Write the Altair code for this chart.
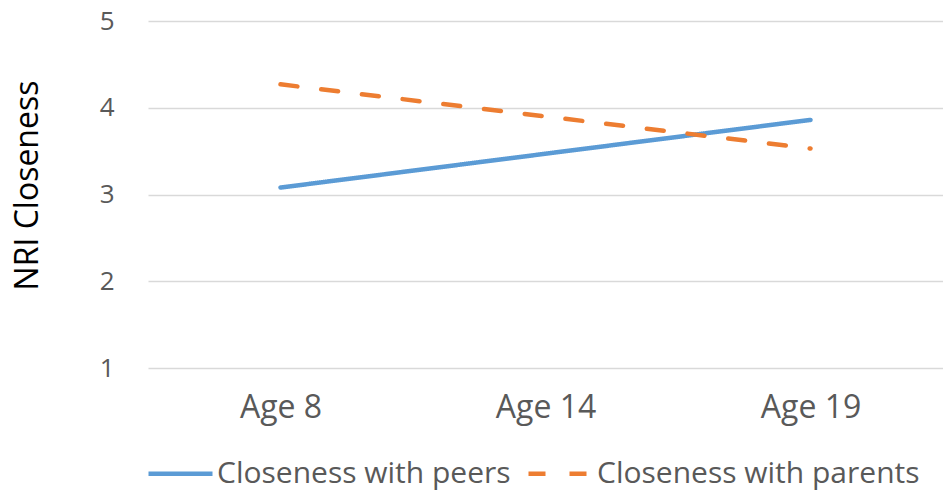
import altair as alt
import pandas as pd

ages = ["Age 8", "Age 14", "Age 19"]
series_names = ["Closeness with peers", "Closeness with parents"]
peers = [3.08, 3.47, 3.86]
parents = [4.27, 3.90, 3.53]

rows = []
for a, v in zip(ages, peers):
    rows.append({"age": a, "series": series_names[0], "value": v})
for a, v in zip(ages, parents):
    rows.append({"age": a, "series": series_names[1], "value": v})
df = pd.DataFrame(rows)

FONT = "Open Sans"

legend = alt.Legend(title=None, orient="none", legendX=-2, legendY=418,
                    direction="horizontal", symbolType="stroke",
                    symbolSize=4096, symbolStrokeWidth=4.5,
                    labelFont=FONT, labelFontSize=30, labelLimit=500,
                    labelColor="#595959", labelOffset=2,
                    columnPadding=8)

chart = alt.Chart(df).mark_line(strokeWidth=4.5, strokeCap="round").encode(
    x=alt.X("age:O", sort=ages, scale=alt.Scale(type="point", padding=0.5),
            axis=alt.Axis(title=None, domain=False, ticks=False, grid=False, labelAngle=0,
                          labelFont=FONT, labelFontSize=32, labelColor="#595959",
                          labelPadding=24)),
    y=alt.Y("value:Q", scale=alt.Scale(domain=[1, 5], nice=False, zero=False),
            axis=alt.Axis(title="NRI Closeness", values=[1, 2, 3, 4, 5], format="d",
                          domain=False, ticks=False, grid=True, gridColor="#D9D9D9",
                          gridWidth=1.5, labelFont=FONT, labelFontSize=26,
                          labelColor="#595959", labelPadding=34,
                          titleFont=FONT, titleFontSize=32, titleFontWeight="normal",
                          titleColor="#000000", titleAngle=270, titleX=-121, titleY=164,
                          titleAlign="center", titleBaseline="middle")),
    color=alt.Color("series:N", sort=series_names,
                    scale=alt.Scale(domain=series_names, range=["#5B9BD5", "#ED7D31"]),
                    legend=legend),
    strokeDash=alt.StrokeDash("series:N", sort=series_names,
                              scale=alt.Scale(domain=series_names, range=[[1, 0], [17, 24]]),
                              legend=legend),
).properties(
    width=795, height=347,
    background="white",
    autosize=alt.AutoSizeParams(type="none"),
    padding={"left": 140, "top": 13, "right": 0, "bottom": 131},
).configure_view(stroke=None)

chart.save("out.html", embed_options={"renderer": "svg", "actions": False})
